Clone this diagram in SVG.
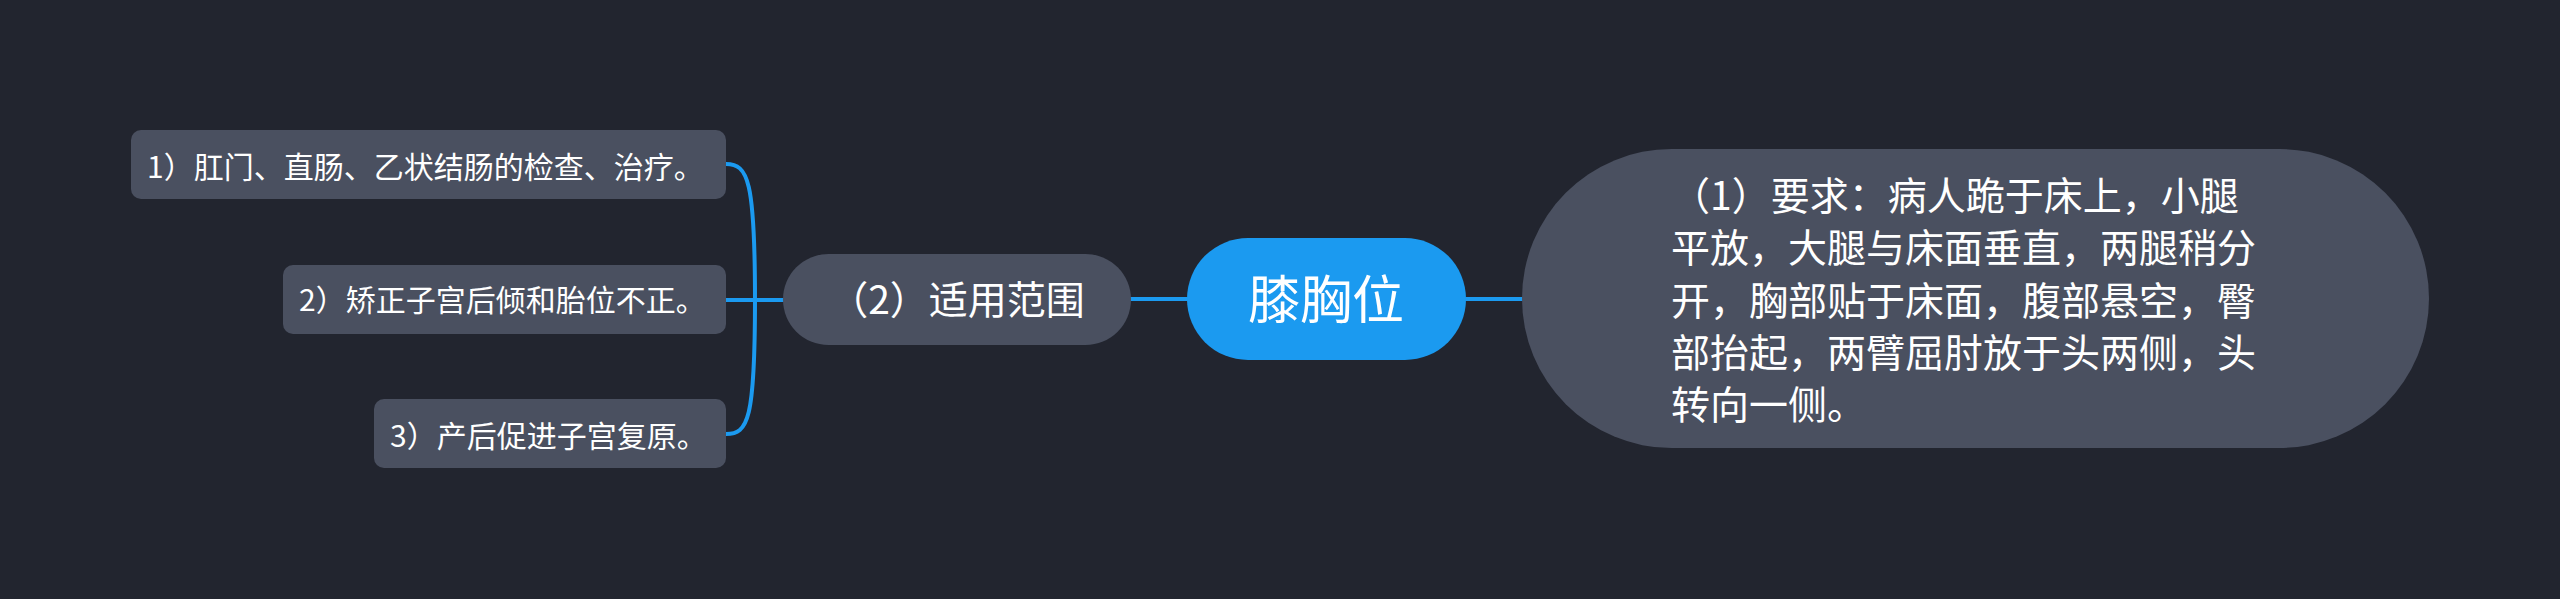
<svg xmlns="http://www.w3.org/2000/svg" width="2560" height="599" viewBox="0 0 2560 599">
  <style>
    .bg { fill: #22252f; }
    .node { fill: #4a5060; }
    .root { fill: #1b9af0; }
    .txt { fill: #ffffff; font-family: "Noto Sans CJK SC", "Noto Sans", sans-serif; }
    .leaf { font-size: 30px; }
    .lvl1 { font-size: 39px; }
    .main { font-size: 52px; }
    .conn { fill: none; stroke: #1b9af0; stroke-width: 4; stroke-linecap: round; }
  </style>
  <rect class="bg" x="0" y="0" width="2560" height="599"/>
  <g id="connectors">
    <path class="conn" d="M1131,299 L1187,299"/>
    <path class="conn" d="M1466,299 L1522,299"/>
    <path class="conn" d="M726,300 L783,300"/>
    <path class="conn" d="M726,164 C748,164 755,180 755,300 C755,420 748,434 726,434"/>
  </g>
  <g id="root">
    <rect class="root" x="1187" y="238" width="279" height="122" rx="61" ry="61"/>
    <text class="txt main" x="1326" y="318.5" text-anchor="middle">膝胸位</text>
  </g>
  <g id="node-requirement">
    <rect class="node" x="1522" y="149" width="907" height="299" rx="149.5" ry="149.5"/>
    <text class="txt lvl1">
      <tspan x="1671" y="210">（1）要求：病人跪于床上，小腿</tspan>
      <tspan x="1671" y="262.3">平放，大腿与床面垂直，两腿稍分</tspan>
      <tspan x="1671" y="314.6">开，胸部贴于床面，腹部悬空，臀</tspan>
      <tspan x="1671" y="366.9">部抬起，两臂屈肘放于头两侧，头</tspan>
      <tspan x="1671" y="419.2">转向一侧。</tspan>
    </text>
  </g>
  <g id="node-scope">
    <rect class="node" x="783" y="254" width="348" height="91" rx="45.5" ry="45.5"/>
    <text class="txt lvl1" x="957" y="314" text-anchor="middle">（2）适用范围</text>
  </g>
  <g id="leaf-1">
    <rect class="node" x="131" y="130" width="595" height="69" rx="10" ry="10"/>
    <text class="txt leaf" x="147" y="177.5">1）肛门、直肠、乙状结肠的检查、治疗。</text>
  </g>
  <g id="leaf-2">
    <rect class="node" x="283" y="265" width="443" height="69" rx="10" ry="10"/>
    <text class="txt leaf" x="299" y="311">2）矫正子宫后倾和胎位不正。</text>
  </g>
  <g id="leaf-3">
    <rect class="node" x="374" y="399" width="352" height="69" rx="10" ry="10"/>
    <text class="txt leaf" x="390" y="447">3）产后促进子宫复原。</text>
  </g>
</svg>
